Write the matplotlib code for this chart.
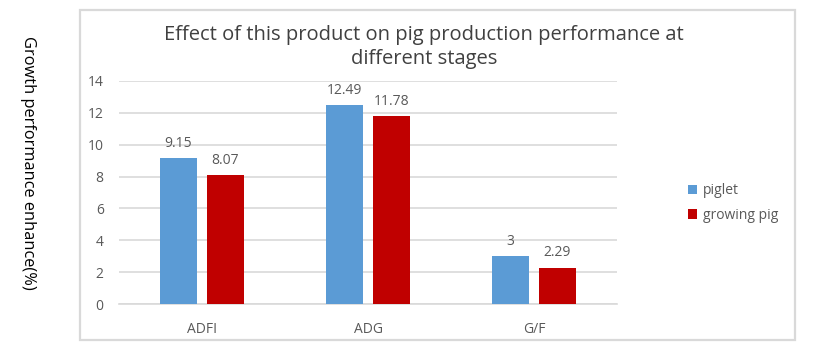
import numpy as np
import matplotlib
matplotlib.use("Agg")
import matplotlib.pyplot as plt
from matplotlib.patches import Rectangle

categories = ["ADFI", "ADG", "G/F"]
piglet = [9.15, 12.49, 3]
growing_pig = [8.07, 11.78, 2.29]
series_names = ["piglet", "growing pig"]
yticks = [0, 2, 4, 6, 8, 10, 12, 14]

plt.rcParams['font.family'] = ['Open Sans', 'DejaVu Sans']

W, H = 814, 355
fig = plt.figure(figsize=(W / 100, H / 100), dpi=100)

# outer chart border
fig.patches.append(Rectangle((80 / W, 1 - 340 / H), 715 / W, 330 / H,
                             transform=fig.transFigure, fill=False,
                             edgecolor="#d9d9d9", linewidth=1.6))

ax = fig.add_axes([119 / W, 1 - 304 / H, 498 / W, 223 / H])

x = np.arange(len(categories))
bw = 0.223
off = 0.1416
gray = "#595959"

b1 = ax.bar(x - off, piglet, bw, color="#5b9bd5", label=series_names[0], zorder=3)
b2 = ax.bar(x + off, growing_pig, bw, color="#c00000", label=series_names[1], zorder=3)

for bars, vals in [(b1, piglet), (b2, growing_pig)]:
    for b, v in zip(bars, vals):
        ax.text(b.get_x() + b.get_width() / 2, v + 0.45, f"{v:g}",
                ha="center", va="bottom", fontsize=10, color=gray)

ax.set_xlim(-0.5, 2.5)
ax.set_ylim(0, 14)
ax.set_yticks(yticks)
ax.set_xticks(x)
ax.set_xticklabels(categories)
ax.yaxis.grid(True, color="#d9d9d9", linewidth=1.2, zorder=0)
ax.tick_params(axis="both", length=0, colors=gray, labelsize=10)
ax.tick_params(axis="x", pad=13)
ax.tick_params(axis="y", pad=11)
for s in ["top", "right", "left"]:
    ax.spines[s].set_visible(False)
ax.spines["bottom"].set_color("#d9d9d9")
ax.spines["bottom"].set_linewidth(1.2)

fig.text(424 / W, 1 - 47 / H,
         "Effect of this product on pig production performance at\ndifferent stages",
         ha="center", va="center", fontsize=14.5, color="#404040", linespacing=1.25)

fig.text(28 / W, 1 - 163 / H, "Growth performance enhance(%)",
         rotation=270, ha="center", va="center", fontsize=11.8, color="black")

leg = ax.legend(loc="center left", bbox_to_anchor=(675 / W, 1 - 203 / H),
                bbox_transform=fig.transFigure, frameon=False, fontsize=10,
                handlelength=0.7, handleheight=0.7, handletextpad=0.4,
                labelspacing=0.65)
for t in leg.get_texts():
    t.set_color(gray)

fig.savefig("out.png", dpi=100)
